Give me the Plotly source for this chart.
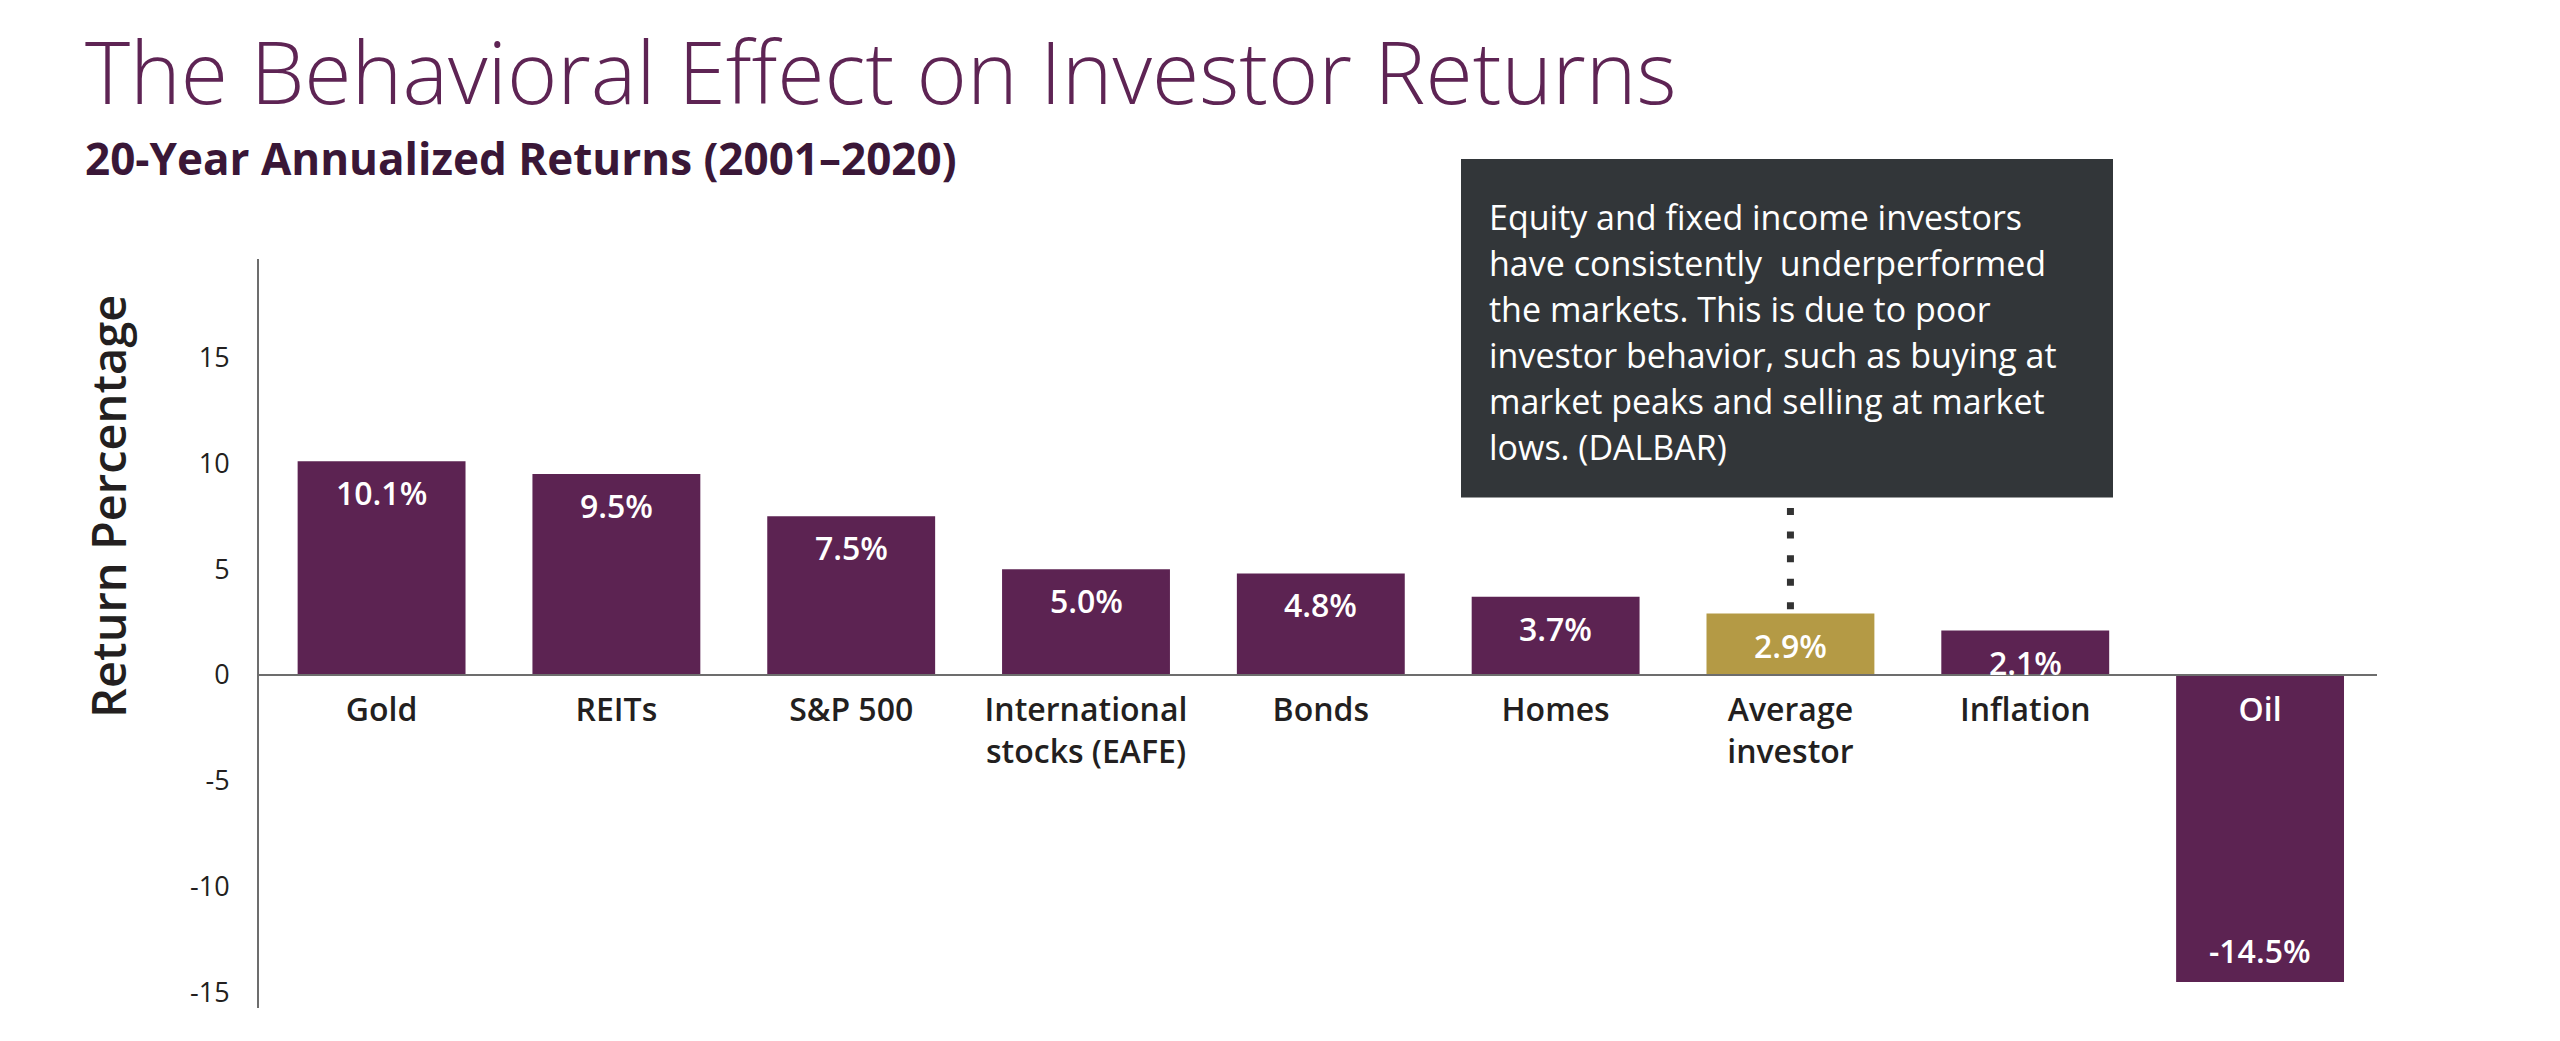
import plotly.graph_objects as go

# ---------------- data ----------------
categories = ["Gold", "REITs", "S&P 500", "International stocks (EAFE)", "Bonds",
              "Homes", "Average investor", "Inflation", "Oil"]
tick_labels = ["Gold", "REITs", "S&P 500", "International<br>stocks (EAFE)", "Bonds",
               "Homes", "Average<br>investor", "Inflation",
               '<span style="color:white">Oil</span>']
returns = [10.1, 9.5, 7.5, 5.0, 4.8, 3.7, 2.9, 2.1, -14.5]
highlight = "Average investor"
y_tick_vals = [15, 10, 5, 0, -5, -10, -15]
y_tick_text = ["15", "10", "5", "0", "-5", "-10", "-15"]
callout_lines = [
    "Equity and fixed income investors",
    "have consistently  underperformed",
    "the markets. This is due to poor",
    "investor behavior, such as buying at",
    "market peaks and selling at market",
    "lows. (DALBAR)",
]
title_text = "The Behavioral Effect on Investor Returns"
subtitle_text = "20-Year Annualized Returns (2001\u20132020)"
y_title = "Return Percentage"

# ---------------- style ----------------
OFF = 8  # default page body margin
W, H = 2560 - 2 * OFF, 1041 - 2 * OFF
PLOT_L, PLOT_R, PLOT_T, PLOT_B = 259 - OFF, 2377 - OFF, 259 - OFF, 1008 - OFF
ML, MR, MT, MB = PLOT_L, W - PLOT_R, PLOT_T, H - PLOT_B
PW, PH = PLOT_R - PLOT_L, PLOT_B - PLOT_T
Y_RANGE = [-15.73, 19.65]
X_RANGE = [-0.522, 8.498]
PURPLE = "#5c2352"
GOLD = "#b49a45"
BOX = "#323639"
DARK = "#231f20"
AXIS = "#6d6d6d"
FONT = "Open Sans"


def px_x(p):
    return (p - OFF - PLOT_L) / PW


def px_y(p):
    return (PLOT_B - (p - OFF)) / PH


colors = [GOLD if c == highlight else PURPLE for c in categories]

fig = go.Figure()
fig.add_trace(go.Bar(
    x=categories, y=returns,
    marker=dict(color=colors, line=dict(width=0)),
    hoverinfo="x+y", showlegend=False,
))

annotations = []
# value labels inside bars
for c, v in zip(categories, returns):
    annotations.append(dict(
        x=c, y=v, xref="x", yref="y",
        text=f"{v:.1f}%", showarrow=False,
        yanchor="top" if v >= 0 else "bottom",
        yshift=-8 if v >= 0 else 8,
        font=dict(family=FONT, size=32, color="white", weight=600),
    ))

# title & subtitle
annotations.append(dict(
    x=px_x(83), y=px_y(70), xref="paper", yref="paper",
    xanchor="left", yanchor="middle", showarrow=False,
    text=title_text,
    font=dict(family=FONT, size=86, color="#5e2454", weight=300),
))
annotations.append(dict(
    x=px_x(83), y=px_y(158), xref="paper", yref="paper",
    xanchor="left", yanchor="middle", showarrow=False,
    text=subtitle_text,
    font=dict(family=FONT, size=44, color="#3a1737", weight=700),
))
# y axis title
annotations.append(dict(
    x=px_x(108), y=px_y(507), xref="paper", yref="paper",
    xanchor="center", yanchor="middle", showarrow=False,
    text=y_title, textangle=-90,
    font=dict(family=FONT, size=47, color=DARK, weight=600),
))
# callout text
line_gap = 45.9
for i, line in enumerate(callout_lines):
    annotations.append(dict(
        x=px_x(1487), y=px_y(217 + i * line_gap), xref="paper", yref="paper",
        xanchor="left", yanchor="middle", showarrow=False,
        text=line,
        font=dict(family=FONT, size=34, color="white"),
    ))

shapes = [
    dict(type="rect", xref="paper", yref="paper",
         x0=px_x(1461), x1=px_x(2113), y0=px_y(497.5), y1=px_y(159),
         fillcolor=BOX, line=dict(width=0), layer="above"),
    dict(type="line", xref="x", yref="y",
         x0=highlight, x1=highlight, y0=7.89, y1=returns[categories.index(highlight)] + 0.15,
         line=dict(color="#333333", width=7, dash="7px,16.6px")),
]

fig.update_layout(
    width=W, height=H,
    margin=dict(l=ML, r=MR, t=MT, b=MB, autoexpand=False),
    paper_bgcolor="white", plot_bgcolor="white",
    bargap=0.285,
    annotations=annotations,
    shapes=shapes,
    font=dict(family=FONT, color=DARK),
    xaxis=dict(
        range=X_RANGE, type="category",
        tickmode="array", tickvals=categories, ticktext=tick_labels,
        tickfont=dict(family=FONT, size=32, color=DARK, weight=600),
        anchor="free", position=(0 - Y_RANGE[0]) / (Y_RANGE[1] - Y_RANGE[0]),
        showline=True, linecolor=AXIS, linewidth=2,
        showgrid=False, zeroline=False, ticks="",
        ticklabelstandoff=7,
    ),
    yaxis=dict(
        range=Y_RANGE,
        tickmode="array", tickvals=y_tick_vals, ticktext=y_tick_text,
        tickfont=dict(family=FONT, size=27, color=DARK),
        showline=True, linecolor=AXIS, linewidth=2,
        showgrid=False, zeroline=False, ticks="",
        ticklabelstandoff=22,
    ),
)

fig.write_html("out.html")
